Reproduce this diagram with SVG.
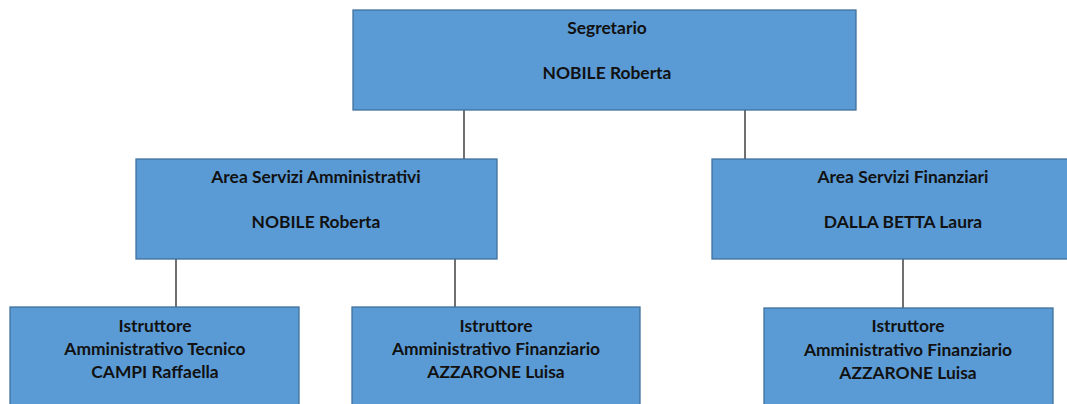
<svg xmlns="http://www.w3.org/2000/svg" width="1067" height="404" viewBox="0 0 1067 404">
<style>
.box{fill:#5b9bd5;stroke:#41719c;stroke-width:1.3}
.t{font-family:Lato,"Liberation Sans",sans-serif;font-weight:bold;font-size:17.4px;fill:#111;text-anchor:middle}
.c{stroke:#222;stroke-width:1.3;fill:none}
</style>
<rect width="1067" height="404" fill="#fff"/>
<g id="connectors">
<line class="c" x1="464" y1="110" x2="464" y2="159"/>
<line class="c" x1="745" y1="110" x2="745" y2="159"/>
<line class="c" x1="176" y1="259" x2="176" y2="307"/>
<line class="c" x1="455" y1="259" x2="455" y2="307"/>
<line class="c" x1="903" y1="259" x2="903" y2="308"/>
</g>
<g id="segretario">
<rect class="box" x="353" y="10" width="503" height="100"/>
<text class="t" x="607" y="34">Segretario</text>
<text class="t" x="607" y="79">NOBILE Roberta</text>
</g>
<g id="area-amm">
<rect class="box" x="136" y="159" width="361" height="100"/>
<text class="t" x="316" y="183">Area Servizi Amministrativi</text>
<text class="t" x="316" y="228">NOBILE Roberta</text>
</g>
<g id="area-fin">
<rect class="box" x="712" y="159" width="382" height="100"/>
<text class="t" x="903" y="183">Area Servizi Finanziari</text>
<text class="t" x="903" y="228">DALLA BETTA Laura</text>
</g>
<g id="campi">
<rect class="box" x="10" y="307" width="289" height="110"/>
<text class="t" x="155" y="332">Istruttore</text>
<text class="t" x="155" y="355">Amministrativo Tecnico</text>
<text class="t" x="155" y="378">CAMPI Raffaella</text>
</g>
<g id="azzarone-1">
<rect class="box" x="352" y="307" width="288" height="110"/>
<text class="t" x="496" y="332">Istruttore</text>
<text class="t" x="496" y="355">Amministrativo Finanziario</text>
<text class="t" x="496" y="378">AZZARONE Luisa</text>
</g>
<g id="azzarone-2">
<rect class="box" x="764" y="308" width="289" height="110"/>
<text class="t" x="908" y="332">Istruttore</text>
<text class="t" x="908" y="356">Amministrativo Finanziario</text>
<text class="t" x="908" y="379">AZZARONE Luisa</text>
</g>
</svg>
